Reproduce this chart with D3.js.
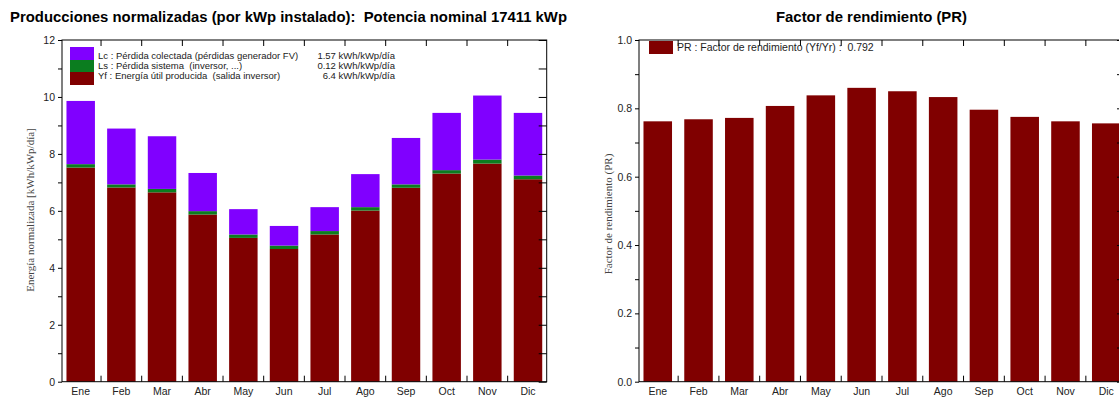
<!DOCTYPE html>
<html>
<head>
<meta charset="utf-8">
<script src="https://cdn.jsdelivr.net/npm/d3@7"></script>
<style>
    body { margin: 0; background: #fff; }
    svg text { font-family: "Liberation Sans", Arial, sans-serif; }
    .ylab { font-family: "Liberation Serif", "Times New Roman", serif !important; }
    .leg { white-space: pre; }
</style>
</head>
<body>
<div id="chart"></div>
<script>
(function() {
    var months = ["Ene", "Feb", "Mar", "Abr", "May", "Jun", "Jul", "Ago", "Sep", "Oct", "Nov", "Dic"];

    // normalized energy, kWh/kWp/día
    var yfValues = [7.52, 6.82, 6.65, 5.87, 5.05, 4.66, 5.17, 6.01, 6.81, 7.31, 7.66, 7.11];
    var lsValues = [0.12, 0.11, 0.12, 0.12, 0.12, 0.12, 0.12, 0.12, 0.12, 0.12, 0.14, 0.13];
    var lcValues = [2.22, 1.96, 1.85, 1.34, 0.89, 0.69, 0.84, 1.16, 1.63, 2.01, 2.25, 2.20];

    // performance ratio
    var prValues = [0.762, 0.768, 0.772, 0.807, 0.838, 0.860, 0.850, 0.833, 0.796, 0.775, 0.762, 0.756];

    var energyTicks = [0, 2, 4, 6, 8, 10, 12];
    var energyMinor = [1, 3, 5, 7, 9, 11];
    var prTicks = [0, 0.2, 0.4, 0.6, 0.8, 1.0];
    var prMinor = [0.1, 0.3, 0.5, 0.7, 0.9];

    var legendLeft = [
        { key: "lc", label: "Lc : Pérdida colectada (pérdidas generador FV)", value: "1.57 kWh/kWp/día" },
        { key: "ls", label: "Ls : Pérdida sistema  (inversor, ...)", value: "0.12 kWh/kWp/día" },
        { key: "yf", label: "Yf : Energía útil producida  (salida inversor)", value: "6.4 kWh/kWp/día" }
    ];
    var legendRight = "PR : Factor de rendimiento (Yf/Yr) :  0.792";

    var colors = { lc: "#8000ff", ls: "#0b7d1f", yf: "#800000", pr: "#800000" };

    var width = 1119, height = 397;
    var svg = d3.select("#chart")
        .append("svg")
        .attr("width", width)
        .attr("height", height);

    var top = 40, bottom = 381.7;

    function frame(g, x, y, x0, x1, major, minor, fmt) {
        // left axis with outward major ticks
        g.append("g")
            .attr("transform", "translate(" + x0 + ",0)")
            .call(d3.axisLeft(y).tickValues(major).tickSize(4).tickPadding(3).tickFormat(fmt))
            .call(function(a) {
                a.select(".domain").remove();
                a.selectAll("text").attr("font-size", "10.5px").attr("fill", "#222");
            });
        g.append("g")
            .attr("transform", "translate(" + x0 + ",0)")
            .call(d3.axisLeft(y).tickValues(minor).tickSize(4).tickFormat(""))
            .select(".domain").remove();
        // right side ticks pointing inward
        g.append("g")
            .attr("transform", "translate(" + x1 + ",0)")
            .call(d3.axisRight(y).tickValues(major.concat(minor)).tickSize(-8).tickFormat(""))
            .select(".domain").remove();

        // separators between months (top and bottom)
        var half = x.step() * x.paddingInner() / 2;
        var seps = months.slice(1).map(function(m) { return x(m) - half; });
        g.selectAll(".septop").data(seps).enter().append("line")
            .attr("x1", function(d) { return d; }).attr("x2", function(d) { return d; })
            .attr("y1", top).attr("y2", top + 6)
            .attr("stroke", "#000");
        g.selectAll(".sepbot").data(seps).enter().append("line")
            .attr("x1", function(d) { return d; }).attr("x2", function(d) { return d; })
            .attr("y1", bottom).attr("y2", bottom - 6)
            .attr("stroke", "#000");

        // month labels
        g.append("g")
            .attr("transform", "translate(0," + bottom + ")")
            .call(d3.axisBottom(x).tickSize(0).tickPadding(6))
            .call(function(a) {
                a.select(".domain").remove();
                a.selectAll("text").attr("font-size", "10.5px").attr("fill", "#222");
            });

        g.append("rect")
            .attr("x", x0).attr("y", top)
            .attr("width", x1 - x0).attr("height", bottom - top)
            .attr("fill", "none").attr("stroke", "#000").attr("stroke-width", 1);
    }

    // ---------- left chart: normalized productions ----------
    var lx0 = 62, lx1 = 546.7;
    var xLeft = d3.scaleBand().domain(months).range([lx0, lx1]).paddingInner(0.3).paddingOuter(0.11);
    var yLeft = d3.scaleLinear().domain([0, 12]).range([bottom, top]);

    var rows = months.map(function(m, i) {
        return { month: m, yf: yfValues[i], ls: lsValues[i], lc: lcValues[i] };
    });
    var stack = d3.stack().keys(["yf", "ls", "lc"]);
    var left = svg.append("g");

    left.selectAll(".layer")
        .data(stack(rows))
        .enter().append("g")
        .attr("fill", function(d) { return colors[d.key]; })
        .selectAll("rect")
        .data(function(d) { return d; })
        .enter().append("rect")
        .attr("x", function(d) { return xLeft(d.data.month); })
        .attr("width", xLeft.bandwidth())
        .attr("y", function(d) { return yLeft(d[1]); })
        .attr("height", function(d) { return yLeft(d[0]) - yLeft(d[1]); });

    frame(left, xLeft, yLeft, lx0, lx1, energyTicks, energyMinor, d3.format("d"));

    var lg = left.append("g");
    var boxY = [47, 60, 72], boxH = [13, 12, 13];
    legendLeft.forEach(function(d, i) {
        lg.append("rect")
            .attr("x", 70).attr("y", boxY[i])
            .attr("width", 24).attr("height", boxH[i])
            .attr("fill", colors[d.key]);
        lg.append("text")
            .attr("class", "leg")
            .attr("x", 98).attr("y", 59 + i * 10)
            .attr("font-size", "9.5px").attr("fill", "#222")
            .text(d.label);
        lg.append("text")
            .attr("x", 395).attr("y", 59 + i * 10)
            .attr("text-anchor", "end")
            .attr("font-size", "9.5px").attr("fill", "#222")
            .text(d.value);
    });

    left.append("text")
        .attr("class", "ylab")
        .attr("transform", "translate(34,210) rotate(-90)")
        .attr("text-anchor", "middle")
        .attr("font-size", "11px").attr("fill", "#444")
        .text("Energía normalizada [kWh/kWp/día]");

    svg.append("text")
        .attr("class", "leg")
        .attr("x", 10).attr("y", 22)
        .attr("font-size", "15px").attr("font-weight", "bold")
        .attr("textLength", 557).attr("lengthAdjust", "spacingAndGlyphs")
        .text("Producciones normalizadas (por kWp instalado):  Potencia nominal 17411 kWp");

    // ---------- right chart: performance ratio ----------
    var rx0 = 639, rx1 = 1125;
    var xRight = d3.scaleBand().domain(months).range([rx0, rx1]).paddingInner(0.3).paddingOuter(0.11);
    var yRight = d3.scaleLinear().domain([0, 1]).range([bottom, top]);
    var right = svg.append("g");

    right.selectAll(".bar")
        .data(prValues)
        .enter().append("rect")
        .attr("x", function(d, i) { return xRight(months[i]); })
        .attr("width", xRight.bandwidth())
        .attr("y", function(d) { return yRight(d); })
        .attr("height", function(d) { return bottom - yRight(d); })
        .attr("fill", colors.pr);

    frame(right, xRight, yRight, rx0, rx1, prTicks, prMinor, d3.format(".1f"));

    right.append("rect")
        .attr("x", 649).attr("y", 41)
        .attr("width", 24).attr("height", 13)
        .attr("fill", colors.pr);
    right.append("text")
        .attr("class", "leg")
        .attr("x", 677).attr("y", 51)
        .attr("font-size", "10.5px").attr("fill", "#222")
        .text(legendRight);

    right.append("text")
        .attr("class", "ylab")
        .attr("transform", "translate(612,214) rotate(-90)")
        .attr("text-anchor", "middle")
        .attr("font-size", "11px").attr("fill", "#444")
        .text("Factor de rendimiento (PR)");

    svg.append("text")
        .attr("x", 871.5).attr("y", 22)
        .attr("text-anchor", "middle")
        .attr("font-size", "15px").attr("font-weight", "bold")
        .attr("textLength", 191).attr("lengthAdjust", "spacingAndGlyphs")
        .text("Factor de rendimiento (PR)");
})();
</script>
</body>
</html>
